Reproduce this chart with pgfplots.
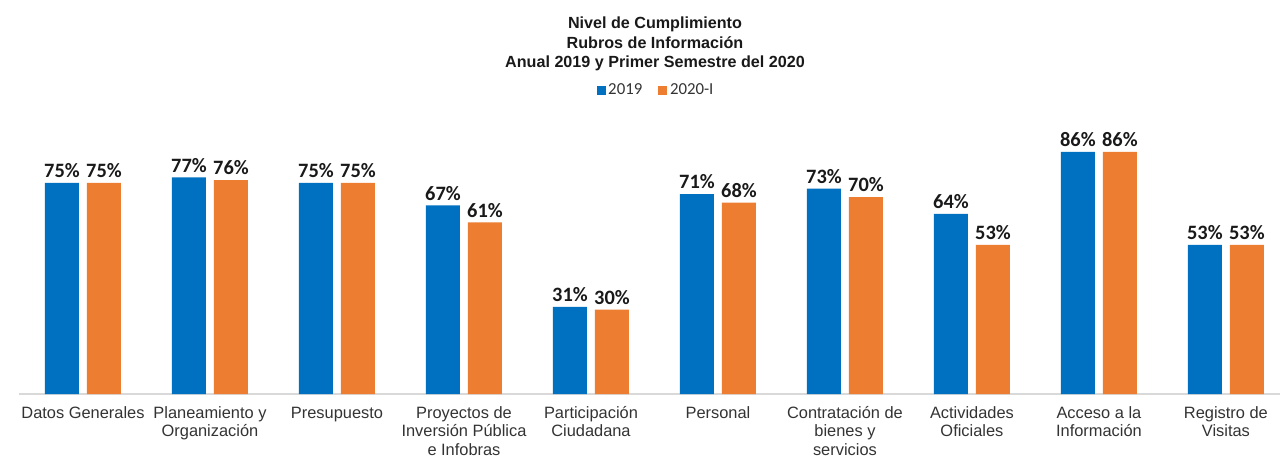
\documentclass[border=0pt]{standalone}
\usepackage{pgfplots}
\pgfplotsset{compat=1.18}
\usepackage{fontspec}
\setmainfont{Liberation Sans}
\newfontfamily\calib{Carlito}
\definecolor{c2019}{HTML}{0070C0}
\definecolor{c2020}{HTML}{ED7D31}

\begin{document}
\begin{tikzpicture}
% 1 px of the reference = 0.75pt; axis box lower left at (0,0)
\useasboundingbox (-19.5*0.75pt,-63*0.75pt) rectangle (1260.5*0.75pt,394*0.75pt);
\begin{axis}[
    at={(0,0)}, anchor=south west,
    scale only axis,
    width=945.75pt, height=211.05pt,
    ybar=6pt,
    bar width=25.5pt,
    xmin=-0.5, xmax=9.43,
    ymin=0, ymax=100,
    axis x line=bottom, axis y line=none,
    x axis line style={draw=black!15, line width=0.8pt, -},
    xtick=data,
    xtick style={draw=none},
    ytick=\empty,
    typeset ticklabels with strut,
    xticklabels={{Datos Generales},{Planeamiento y\\Organización},{Presupuesto},{Proyectos de\\Inversión Pública\\e Infobras},{Participación\\Ciudadana},{Personal},{Contratación de\\bienes y\\servicios},{Actividades\\Oficiales},{Acceso a la\\Información},{Registro de\\Visitas}},
    xticklabel style={align=center, font=\fontsize{12.3}{14.1}\selectfont, text=black!80, yshift=-2.5pt},
    every axis plot/.append style={draw=none},
    /pgf/number format/assume math mode=true,
    nodes near coords={\pgfmathprintnumber{\pgfplotspointmeta}\%},
    nodes near coords style={font=\calib\bfseries\fontsize{15.3}{17}\selectfont, text=black!90, inner sep=3.6pt},
    legend style={at={(0.505,1.08)}, anchor=center, legend columns=-1, draw=none, fill=none,
        font=\calib\fontsize{12.6}{14}\selectfont, text=black!80,
        /tikz/every even column/.append style={column sep=10pt}},
    legend image code/.code={\fill[#1] (0pt,-3.4pt) rectangle (6.8pt,3.4pt);},
]
\addplot[fill=c2019] coordinates {(0,75) (1,77) (2,75) (3,67) (4,31) (5,71) (6,73) (7,64) (8,86) (9,53)};
\addlegendentry{2019}
\addplot[fill=c2020] coordinates {(0,75) (1,76) (2,75) (3,61) (4,30) (5,68) (6,70) (7,53) (8,86) (9,53)};
\addlegendentry{2020-I}
\end{axis}
\node[align=center, font=\bfseries\fontsize{12.1}{14.8}\selectfont, text=black!90] at (635.5*0.75pt, 350*0.75pt)
  {Nivel de Cumplimiento\\Rubros de Información\\Anual 2019 y Primer Semestre del 2020};
\end{tikzpicture}
\end{document}
